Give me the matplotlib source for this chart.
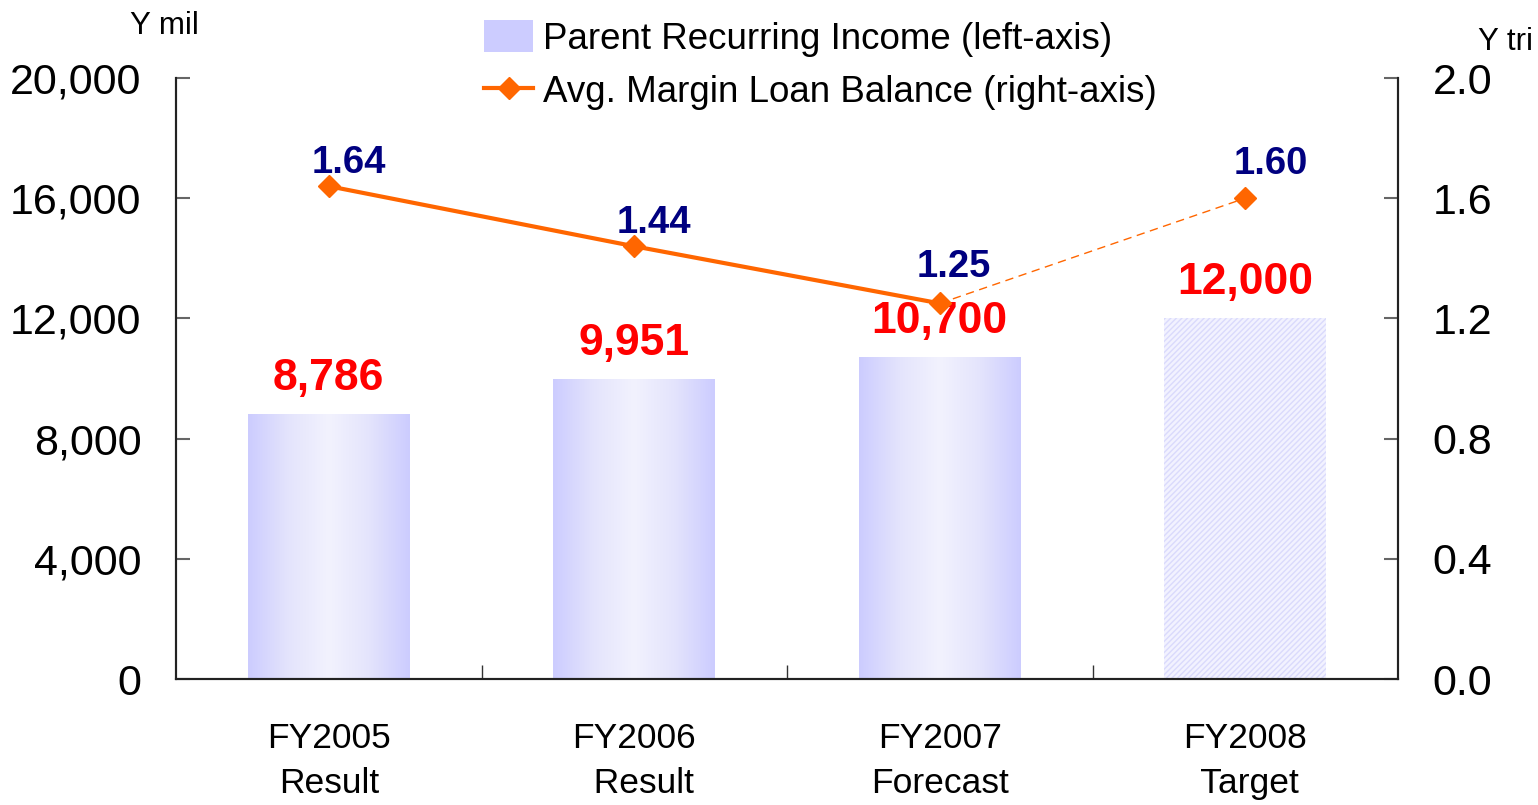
import matplotlib
matplotlib.use("Agg")
import matplotlib.pyplot as plt
import numpy as np
from matplotlib.colors import LinearSegmentedColormap
from matplotlib.lines import Line2D
from matplotlib.patches import Patch

categories = ["FY2005\nResult", "FY2006\n  Result", "FY2007\nForecast", "FY2008\n Target"]
income = [8786, 9951, 10700, 12000]
income_labels = ["8,786", "9,951", "10,700", "12,000"]
margin = [1.64, 1.44, 1.25, 1.60]
margin_labels = ["1.64", "1.44", "1.25", "1.60"]
left_ticks = [0, 4000, 8000, 12000, 16000, 20000]
right_ticks = [0.0, 0.4, 0.8, 1.2, 1.6, 2.0]

plt.rcParams['font.family'] = ['Liberation Sans', 'DejaVu Sans']

fig = plt.figure(figsize=(15.38, 8.05), dpi=100)
ax = fig.add_axes([176/1538, 1-679/805, (1398-176)/1538, (679-78)/805])
ax2 = ax.twinx()

x = np.arange(len(categories))
bw = 0.53
cmap = LinearSegmentedColormap.from_list("g", ["#ccccff", "#e4e4fc", "#f2f2fe", "#e4e4fc", "#ccccff"])
grad = np.linspace(0, 1, 256).reshape(1, -1)
for i in range(3):
    ax.imshow(grad, cmap=cmap, aspect='auto',
              extent=[x[i]-bw/2, x[i]+bw/2, 0, income[i]], zorder=2)
ax.bar(x[:3], income[:3], width=bw, color='none', linewidth=0, zorder=2)
plt.rcParams['hatch.linewidth'] = 1.0
ax.bar(x[3], income[3], width=bw, facecolor='#f2f2ff', edgecolor='#dadafc',
       hatch='//////', linewidth=0, zorder=2)

for i in range(4):
    ax.annotate(income_labels[i], (x[i], income[i]), xytext=(0, 36), textcoords='offset pixels',
                ha='center', va='center', color='#ff0000', fontsize=32, fontweight='bold', zorder=5)

ax.set_xlim(-0.5, 3.5)
ax.set_ylim(0, 20000)
ax.set_yticks(left_ticks)
ax.set_yticklabels([f"{v:,}" for v in left_ticks])
ax2.set_ylim(0, 2.0)
ax2.set_yticks(right_ticks)
ax2.set_yticklabels([f"{v:.1f}" for v in right_ticks])

ax.set_xticks(x)
ax.set_xticklabels(categories, fontsize=25.5, linespacing=1.45)
ax.tick_params(axis='x', length=0, pad=31)
ax.set_xticks([0.5, 1.5, 2.5], minor=True)
ax.tick_params(axis='x', which='minor', direction='in', length=10, color='#333333', width=1)

ax.tick_params(axis='y', direction='in', length=10, color='#666666', width=1.5, labelsize=31, pad=25)
ax2.tick_params(axis='y', direction='in', length=10, color='#666666', width=1.5, labelsize=31, pad=25)

for a in (ax, ax2):
    a.spines['top'].set_visible(False)
    for s in ('left', 'right', 'bottom'):
        a.spines[s].set_color('#222222')
        a.spines[s].set_linewidth(1.5)

orange = '#ff6600'
ax2.plot(x[:3], margin[:3], color=orange, lw=3, zorder=6)
ax2.plot(x[2:], margin[2:], color=orange, lw=1, ls=(0, (6, 4)), zorder=6)
ax2.plot(x, margin, ls='none', marker='D', ms=11, color=orange, zorder=7)
label_offsets = [(20, 23), (20, 23), (14, 36), (26, 34)]
for i in range(4):
    ax2.annotate(margin_labels[i], (x[i], margin[i]), xytext=label_offsets[i], textcoords='offset pixels',
                 ha='center', va='center', color='#000080', fontsize=27.5, fontweight='bold', zorder=8)

fig.text(164/1538, 1-26/805, "Y mil", ha='center', va='center', fontsize=22.5)
fig.text(1478/1538, 1-42/805, "Y tri", ha='left', va='center', fontsize=22.5)

handles = [Patch(facecolor='#ccccff', edgecolor='none'),
           Line2D([0], [0], color=orange, lw=3, marker='D', ms=11)]
fig.legend(handles, ["Parent Recurring Income (left-axis)", "Avg. Margin Loan Balance (right-axis)"],
           loc='upper left', bbox_to_anchor=(466/1538, 1-2/805), frameon=False, fontsize=26.5,
           handlelength=1.33, handleheight=0.95, labelspacing=0.45, handletextpad=0.27, borderpad=0)

fig.savefig("out.png", dpi=100)
